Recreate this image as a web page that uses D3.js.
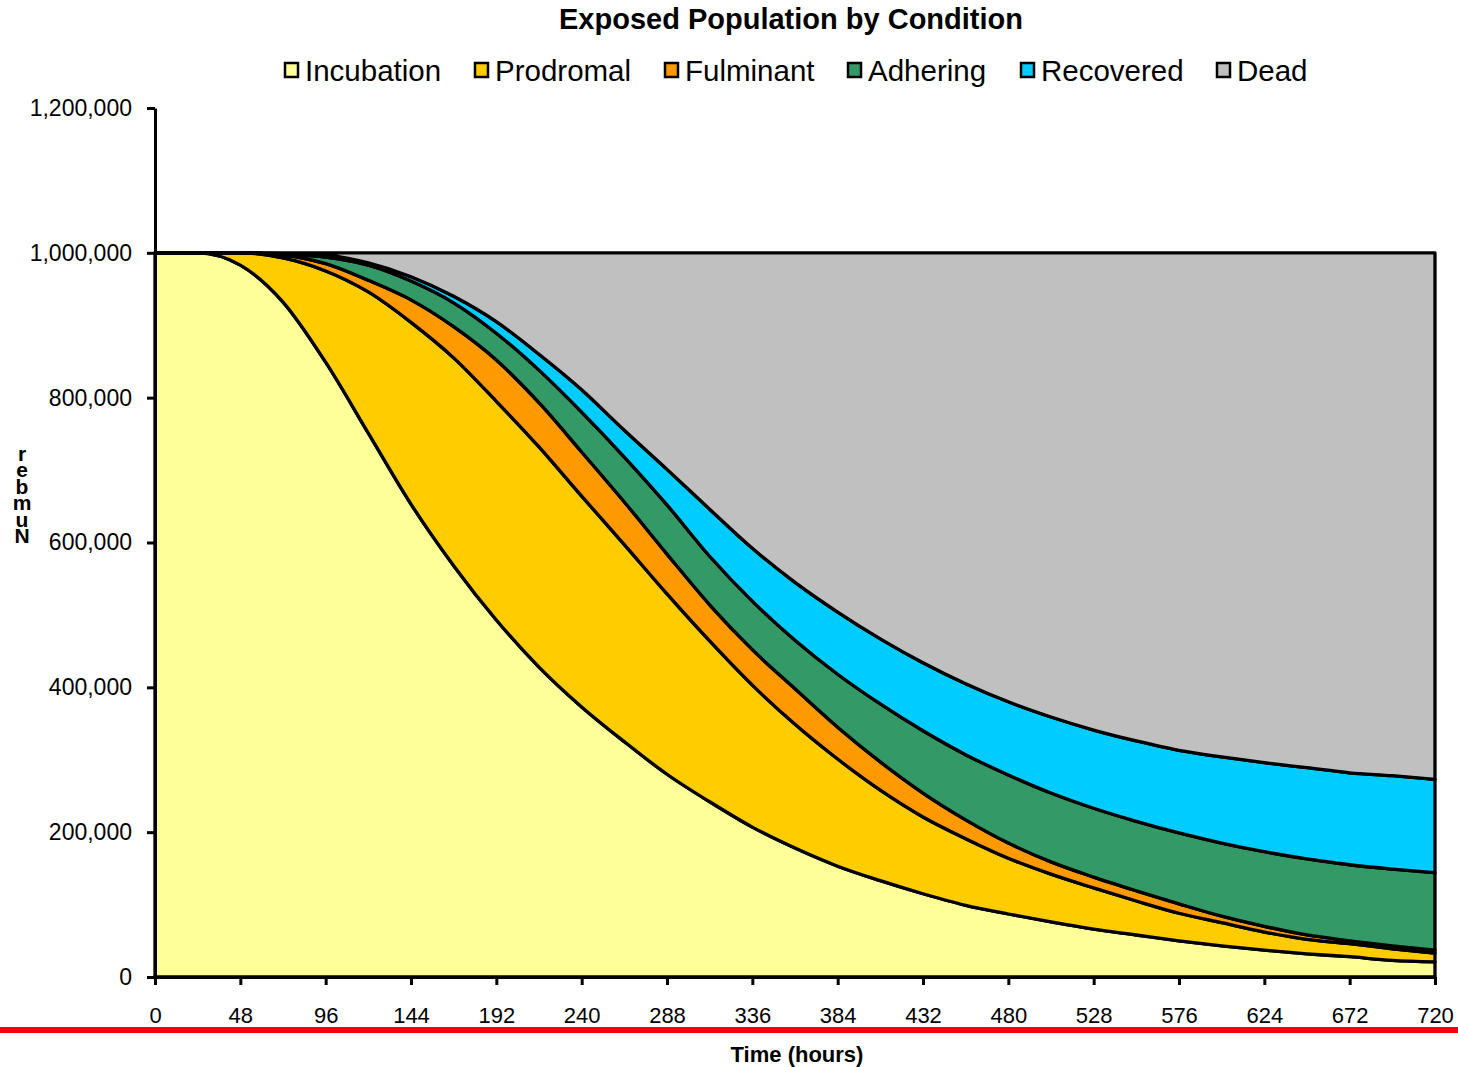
<!DOCTYPE html>
<html>
<head>
<meta charset="utf-8">
<script src="https://cdn.jsdelivr.net/npm/d3@7"></script>
<style>
  body { margin: 0; background: #fff; }
  svg text { font-family: "Liberation Sans", Arial, sans-serif; fill: #000; }
</style>
</head>
<body>
<svg id="chart" width="1458" height="1067"></svg>
<script>
// Time axis (hours since exposure)
const hours = [0, 24, 48, 72, 96, 120, 144, 168, 192, 216, 240, 264, 288, 312, 336, 360,
               384, 408, 432, 456, 480, 504, 528, 552, 576, 600, 624, 648, 672, 696, 720];

// People in each condition at each time step
const incubation = [1000000, 1000000, 983000, 932000, 849000, 751000, 653000, 568000, 493000, 428000,
                    373000, 325000, 280000, 242000, 207000, 178000, 153000, 133000, 115000, 99000,
                    87000, 76000, 66000, 58000, 50000, 43000, 37000, 32000, 28000, 23000, 21000];
const prodromal  = [0, 0, 17000, 61000, 126000, 195000, 251000, 287000, 302000, 304000,
                    291000, 272000, 249000, 222000, 196000, 171000, 148000, 125000, 106000, 92000,
                    77000, 66000, 57000, 47000, 38000, 32000, 25000, 20000, 18000, 16000, 12000];
const fulminant  = [0, 0, 0, 4000, 10000, 16000, 31000, 43000, 57000, 61000,
                    61000, 59000, 55000, 50000, 49000, 49000, 44000, 39000, 33000, 26000,
                    21000, 17000, 15000, 14000, 13000, 9000, 8000, 6000, 4000, 4000, 4000];
const adhering   = [0, 0, 0, 1000, 9000, 21000, 26000, 33000, 37000, 45000,
                    55000, 62000, 68000, 67000, 67000, 67000, 73000, 80000, 86000, 90000,
                    94000, 95000, 95000, 96000, 98000, 101000, 103000, 105000, 105000, 106000, 107000];
const recovered  = [0, 0, 0, 1000, 3000, 3000, 6000, 9000, 16000, 22000,
                    31000, 37000, 49000, 65000, 73000, 80000, 86000, 90000, 94000, 98000,
                    101000, 105000, 108000, 111000, 114000, 119000, 123000, 126000, 127000, 129000, 129000];
const dead       = [0, 0, 0, 1000, 3000, 14000, 33000, 60000, 95000, 140000,
                    189000, 245000, 299000, 354000, 408000, 455000, 496000, 533000, 566000, 595000,
                    620000, 641000, 659000, 674000, 687000, 696000, 704000, 711000, 718000, 722000, 727000];

const seriesNames  = ["Incubation", "Prodromal", "Fulminant", "Adhering", "Recovered", "Dead"];
const seriesValues = [incubation, prodromal, fulminant, adhering, recovered, dead];
const seriesColors = ["#FFFF99", "#FFCC00", "#FF9900", "#339966", "#00CCFF", "#C0C0C0"];

const xTicks = [0, 48, 96, 144, 192, 240, 288, 336, 384, 432, 480, 528, 576, 624, 672, 720];
const yTicks = [0, 200000, 400000, 600000, 800000, 1000000, 1200000];

const svg = d3.select("#chart");
const plotLeft = 155, plotRight = 1435, plotTop = 108, plotBottom = 977;

const x = d3.scaleLinear().domain([0, 720]).range([plotLeft, plotRight]);
const y = d3.scaleLinear().domain([0, 1200000]).range([plotBottom, plotTop]);

// Table of rows for the stack layout
const rows = hours.map((h, i) => {
  const r = { hour: h };
  seriesNames.forEach((name, k) => { r[name] = seriesValues[k][i]; });
  return r;
});

const stacked = d3.stack().keys(seriesNames)(rows);

const area = d3.area()
  .x(d => x(d.data.hour))
  .y0(d => y(d[0]))
  .y1(d => y(d[1]))
  .curve(d3.curveMonotoneX);

svg.append("g")
  .selectAll("path")
  .data(stacked)
  .join("path")
  .attr("d", area)
  .attr("fill", (d, i) => seriesColors[i])
  .attr("stroke", "#000")
  .attr("stroke-width", 3.3)
  .attr("stroke-linejoin", "round");

// Y axis
const yAxis = svg.append("g")
  .attr("transform", `translate(${plotLeft},0)`)
  .call(d3.axisLeft(y).tickValues(yTicks).tickSize(8).tickSizeOuter(0)
        .tickPadding(15).tickFormat(d3.format(",")));
yAxis.select(".domain").attr("stroke-width", 3);
yAxis.selectAll(".tick line").attr("stroke-width", 3);
yAxis.selectAll("text").attr("font-size", 23).attr("font-family", "Liberation Sans, Arial, sans-serif");

// X axis
const xAxis = svg.append("g")
  .attr("transform", `translate(0,${plotBottom})`)
  .call(d3.axisBottom(x).tickValues(xTicks).tickSize(8).tickSizeOuter(0).tickPadding(22));
xAxis.select(".domain").attr("stroke-width", 3);
xAxis.selectAll(".tick line").attr("stroke-width", 3);
xAxis.selectAll("text").attr("font-size", 22).attr("font-family", "Liberation Sans, Arial, sans-serif");

// Red rule under the time labels
svg.append("rect")
  .attr("x", 0).attr("y", 1027).attr("width", 1458).attr("height", 6)
  .attr("fill", "#FF0000");

// Title
svg.append("text")
  .attr("x", 791).attr("y", 29)
  .attr("text-anchor", "middle")
  .attr("font-size", 29).attr("font-weight", "bold")
  .text("Exposed Population by Condition");

// X axis title
svg.append("text")
  .attr("x", 797).attr("y", 1062)
  .attr("text-anchor", "middle")
  .attr("font-size", 22).attr("font-weight", "bold")
  .text("Time (hours)");

// Y axis title: letters stacked upright, reading upward
const yTitle = "Number";
svg.append("g")
  .selectAll("text")
  .data(yTitle.split(""))
  .join("text")
  .attr("x", 22)
  .attr("y", (c, i) => 543 - i * 16.5)
  .attr("text-anchor", "middle")
  .attr("font-size", 21).attr("font-weight", "bold")
  .text(c => c);

// Legend
const legendX = [284, 474, 664, 847, 1020, 1216];
const legend = svg.append("g")
  .selectAll("g")
  .data(seriesNames)
  .join("g")
  .attr("transform", (d, i) => `translate(${legendX[i]},0)`);
legend.append("rect")
  .attr("x", 1).attr("y", 63).attr("width", 13).attr("height", 14)
  .attr("fill", (d, i) => seriesColors[i])
  .attr("stroke", "#000").attr("stroke-width", 2.5);
legend.append("text")
  .attr("x", 21).attr("y", 81)
  .attr("font-size", 29.5)
  .text(d => d);
</script>
</body>
</html>
